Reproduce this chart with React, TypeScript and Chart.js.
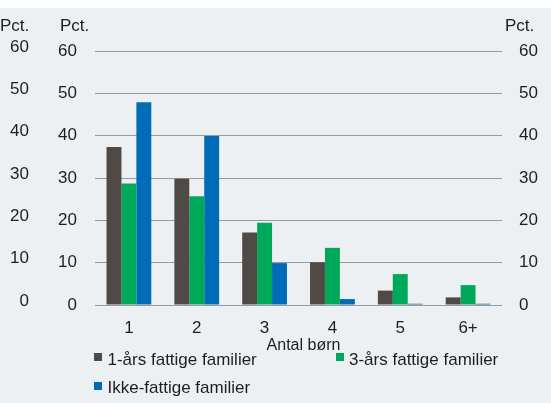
import React, { useEffect, useRef } from "react";
import { Chart, registerables } from "chart.js";

Chart.register(...registerables);

const categories = ["1", "2", "3", "4", "5", "6+"];
const oneYearPoor = [37.3, 29.8, 17.1, 10.1, 3.4, 1.8];
const threeYearPoor = [28.7, 25.7, 19.4, 13.5, 7.3, 4.7];
const nonPoor = [47.9, 39.9, 9.9, 1.4, 0.3, 0.3];
const seriesNames = ["1-års fattige familier", "3-års fattige familier", "Ikke-fattige familier"];
const seriesColors = ["#4f4a46", "#00a85a", "#006cb7"];
const axisTitle = "Pct.";
const xTitle = "Antal børn";

const FONT = "'Liberation Sans', Arial, sans-serif";
const TEXT = "#1e1e1e";
const FS = 17;

const overlayPlugin = {
  id: "overlay",
  afterDraw(chart: any) {
    const ctx = chart.ctx;
    ctx.save();
    ctx.fillStyle = TEXT;
    ctx.font = `${FS}px ${FONT}`;
    ctx.textBaseline = "alphabetic";
    ctx.textAlign = "left";
    ctx.fillText(axisTitle, 0, 23);
    ctx.fillText(axisTitle, 60, 23);
    ctx.fillText(axisTitle, 505, 23);

    // x axis title, slightly right of centre as in the original
    const area = chart.chartArea;
    ctx.font = `16px ${FONT}`;
    ctx.textAlign = "center";
    ctx.fillText(xTitle, (area.left + area.right) / 2 + 5, area.bottom + 45);

    // legend
    ctx.font = `${FS}px ${FONT}`;
    ctx.textAlign = "left";
    const items = [
      { x: 94, y: 345, tx: 107.5, ty: 357, i: 0 },
      { x: 336, y: 345, tx: 349, ty: 357, i: 1 },
      { x: 94, y: 374, tx: 107.5, ty: 385, i: 2 },
    ];
    for (const it of items) {
      ctx.fillStyle = seriesColors[it.i];
      ctx.fillRect(it.x, it.y, 8, 8);
      ctx.fillStyle = TEXT;
      ctx.fillText(seriesNames[it.i], it.tx, it.ty);
    }
    ctx.restore();
  },
};

function ChartView() {
  const ref = useRef<HTMLCanvasElement | null>(null);
  useEffect(() => {
    if (!ref.current) return;
    const chart = new Chart(ref.current, {
      type: "bar",
      data: {
        labels: categories,
        datasets: [
          { label: seriesNames[0], data: oneYearPoor, backgroundColor: seriesColors[0], yAxisID: "y" },
          { label: seriesNames[1], data: threeYearPoor, backgroundColor: seriesColors[1], yAxisID: "y" },
          { label: seriesNames[2], data: nonPoor, backgroundColor: seriesColors[2], yAxisID: "y" },
        ],
      },
      options: {
        animation: false,
        responsive: false,
        devicePixelRatio: 1,
        layout: { padding: { top: 43, left: 0, right: 0, bottom: 48 } },
        datasets: { bar: { barPercentage: 1, categoryPercentage: 0.66 } },
        plugins: { legend: { display: false }, tooltip: { enabled: false } },
        scales: {
          x: {
            grid: { display: false },
            border: { display: false },
            ticks: { color: TEXT, font: { family: FONT, size: FS }, padding: 5 },
            afterFit: (s: any) => { s.height = 50; },
          },
          y: {
            position: "left",
            weight: 1,
            min: 0,
            max: 60,
            grid: { color: "#9a9a9a", lineWidth: 1, drawTicks: false },
            border: { display: false },
            ticks: { stepSize: 10, color: TEXT, font: { family: FONT, size: FS }, padding: 18 },
            afterFit: (s: any) => { s.width = 60; },
          },
          y2: {
            position: "left",
            weight: 10,
            min: 0,
            max: 60,
            grid: { display: false, drawTicks: false },
            border: { display: false },
            ticks: { stepSize: 10, color: TEXT, font: { family: FONT, size: FS }, padding: 6, labelOffset: -4 },
            afterFit: (s: any) => { s.width = 35; },
          },
          y3: {
            position: "right",
            min: 0,
            max: 60,
            grid: { display: false, drawTicks: false },
            border: { display: false },
            ticks: { stepSize: 10, color: TEXT, font: { family: FONT, size: FS }, padding: 17 },
            afterFit: (s: any) => { s.width = 49; },
          },
        },
      } as any,
      plugins: [overlayPlugin],
    });
    return () => chart.destroy();
  }, []);
  return <canvas ref={ref} width={551} height={395} style={{ display: "block", width: 551, height: 395 }} />;
}

export default function App() {
  return (
    <div style={{ position: "fixed", left: 0, top: 0, width: 551, height: 403, background: "#ffffff" }}>
      <div style={{ position: "absolute", left: 0, top: 8, width: 551, height: 395, background: "#edf0f3" }}>
        <ChartView />
      </div>
    </div>
  );
}
